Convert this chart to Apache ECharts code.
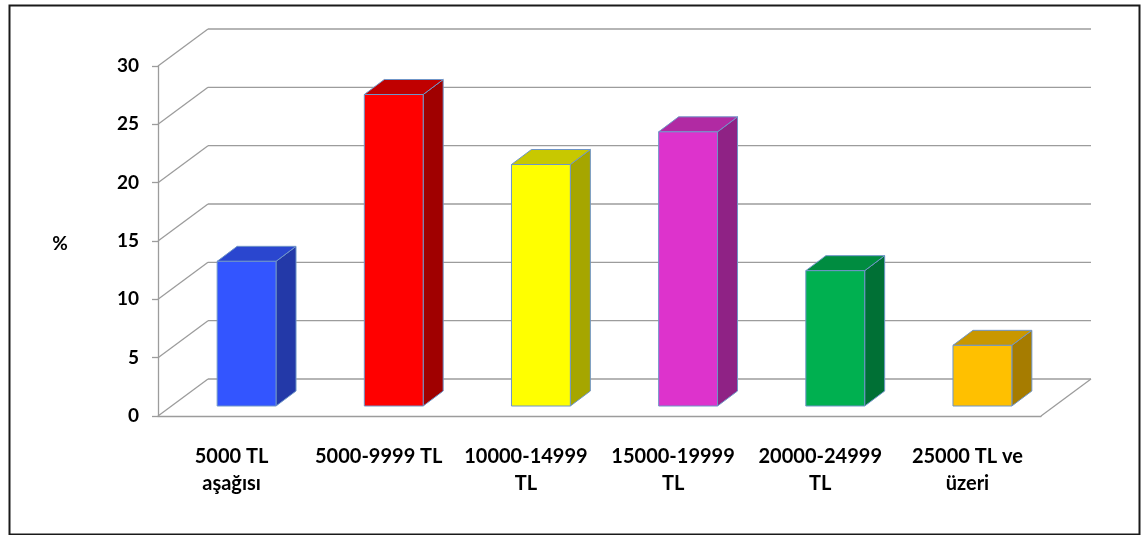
<!DOCTYPE html>
<html>
<head>
<meta charset="utf-8">
<script src="https://cdn.jsdelivr.net/npm/echarts@6/dist/echarts.min.js"></script>
<style>
  html, body { margin: 0; padding: 0; background: #fff; }
  #chart { width: 1141px; height: 535px; }
</style>
</head>
<body>
<div id="chart"></div>
<script>
// Income bands (monthly) and share of respondents, %
const categories = [
  '5000 TL\naşağısı',
  '5000-9999 TL',
  '10000-14999\nTL',
  '15000-19999\nTL',
  '20000-24999\nTL',
  '25000 TL ve\nüzeri'
];
const shares = [12.4, 26.7, 20.7, 23.5, 11.6, 5.2];
const valueMin = 0;
const valueMax = 30;
const valueStep = 5;

// Face colours for each bar: front, top, side
const palette = [
  ['#3355FF', '#2A46CF', '#2339A8'],
  ['#FF0000', '#C00000', '#A00000'],
  ['#FFFF00', '#C8C800', '#A6A600'],
  ['#DD33CC', '#B12AA3', '#8F2285'],
  ['#00B050', '#008C40', '#007035'],
  ['#FFC000', '#C99700', '#A67C00']
];

// Oblique projection of the depth axis
const DEPTH = [50, -37];      // floor / back wall
const BAR_FRONT = [15, -10];  // front face of each column
const BAR_BACK = [35, -25];   // back face of each column
const GRID_COLOR = '#9C9C9C';
const EDGE_COLOR = '#6F95C8';
const LABEL_FONT = 'Lato';

const chart = echarts.init(document.getElementById('chart'), null, { renderer: 'canvas' });

function seg(x1, y1, x2, y2) {
  return {
    type: 'line',
    shape: { x1, y1, x2, y2 },
    style: { stroke: GRID_COLOR, lineWidth: 1.3 }
  };
}

// Left wall diagonals, back wall gridlines and the right floor edge
function renderWalls(params, api) {
  const band = api.size([1, 0])[0];
  const xl = api.coord([0, 0])[0] - band / 2;
  const xr = api.coord([categories.length - 1, 0])[0] + band / 2;
  const children = [];
  for (let v = valueMin; v <= valueMax; v += valueStep) {
    const y = api.coord([0, v])[1];
    children.push(seg(xl, y, xl + DEPTH[0], y + DEPTH[1]));
    children.push(seg(xl + DEPTH[0], y + DEPTH[1], xr + DEPTH[0], y + DEPTH[1]));
  }
  const yb = api.coord([0, valueMin])[1];
  children.push(seg(xr, yb, xr + DEPTH[0], yb + DEPTH[1]));
  return { type: 'group', children };
}

// One shaded box per category: side, top, then front face
function renderBar(params, api) {
  const idx = api.value(0);
  const val = api.value(1);
  const band = api.size([1, 0])[0];
  const w = band * 0.4;
  const [cx, yb] = api.coord([idx, valueMin]);
  const yt = api.coord([idx, val])[1];
  const xl = cx - w / 2;
  const xr = cx + w / 2;
  const F = BAR_FRONT, B = BAR_BACK;
  const cols = palette[idx % palette.length];
  const edge = { stroke: EDGE_COLOR, lineWidth: 1, lineJoin: 'round' };
  return {
    type: 'group',
    children: [
      {
        type: 'polygon',
        shape: { points: [[xr + F[0], yt + F[1]], [xr + B[0], yt + B[1]], [xr + B[0], yb + B[1]], [xr + F[0], yb + F[1]]] },
        style: Object.assign({ fill: cols[2] }, edge)
      },
      {
        type: 'polygon',
        shape: { points: [[xl + F[0], yt + F[1]], [xr + F[0], yt + F[1]], [xr + B[0], yt + B[1]], [xl + B[0], yt + B[1]]] },
        style: Object.assign({ fill: cols[1] }, edge)
      },
      {
        type: 'rect',
        shape: { x: xl + F[0], y: yt + F[1], width: w, height: yb - yt },
        style: Object.assign({ fill: cols[0] }, edge)
      }
    ]
  };
}

const option = {
  animation: false,
  backgroundColor: '#fff',
  grid: { left: 158, top: 66, width: 883, height: 350, containLabel: false },
  xAxis: {
    type: 'category',
    data: categories,
    boundaryGap: true,
    axisLine: { show: true, lineStyle: { color: GRID_COLOR, width: 1.3 } },
    axisTick: { show: false },
    axisLabel: {
      interval: 0,
      margin: 27,
      color: '#000',
      fontFamily: LABEL_FONT,
      fontWeight: 'bold',
      fontSize: 20,
      lineHeight: 27,
      align: 'center'
    },
    splitLine: { show: false }
  },
  yAxis: {
    type: 'value',
    min: valueMin,
    max: valueMax,
    interval: valueStep,
    axisLine: { show: true, lineStyle: { color: GRID_COLOR, width: 1.3 } },
    axisTick: { show: true, inside: false, length: 6, lineStyle: { color: GRID_COLOR, width: 1.3 } },
    axisLabel: {
      margin: 19,
      color: '#000',
      fontFamily: LABEL_FONT,
      fontWeight: 'bold',
      fontSize: 19
    },
    splitLine: { show: false }
  },
  graphic: [
    {
      type: 'rect',
      left: 7, top: 3,
      shape: { width: 1130, height: 529 },
      style: { fill: 'none', stroke: '#1a1a1a', lineWidth: 2 },
      z: 100
    },
    {
      type: 'text',
      x: 60, y: 244,
      style: {
        text: '%',
        fill: '#000',
        font: 'bold 19px ' + LABEL_FONT,
        align: 'center',
        verticalAlign: 'middle'
      }
    }
  ],
  series: [
    {
      type: 'custom',
      name: 'walls',
      renderItem: renderWalls,
      data: [[0, 0]],
      silent: true,
      z: 1
    },
    {
      type: 'custom',
      name: 'Pay (%)',
      renderItem: renderBar,
      data: shares.map((v, i) => [i, v]),
      z: 2
    }
  ]
};

chart.setOption(option);
</script>
</body>
</html>
